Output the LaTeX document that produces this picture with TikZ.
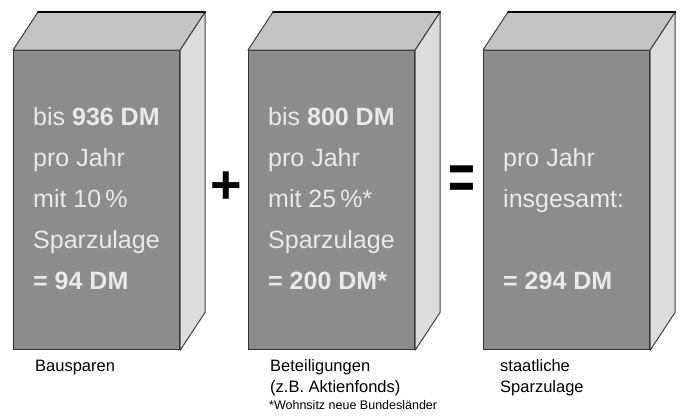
\documentclass[tikz,border=0pt]{standalone}
\usepackage{fontspec}
\setmainfont{Liberation Sans}
\usepackage{tikz}
\usetikzlibrary{calc}
\definecolor{frontgray}{RGB}{140,140,140}
\definecolor{topgray}{RGB}{196,196,196}
\definecolor{sidegray}{RGB}{220,220,220}
\definecolor{textgray}{RGB}{234,234,234}

\begin{document}
\begin{tikzpicture}[x=1pt,y=-1pt,
        front/.style={draw=black!80,fill=frontgray,line width=1.2pt,minimum width=166pt,
            minimum height=299pt,inner sep=0pt,anchor=north west},
        inbox/.style={anchor=base west,inner sep=0pt,text=textgray,font=\fontsize{25}{30}\selectfont},
        undertext/.style={anchor=base west,inner sep=0pt,font=\fontsize{16.5}{20}\selectfont},
        sign/.style={inner sep=0pt,font=\fontsize{54}{54}\selectfont\bfseries}]
    \useasboundingbox (0,0) rectangle (682,418);
    % front faces
    \node[front] (bau) at (13,50) {};
    \node[front] (bet) at (248,50) {};
    \node[front] (sum) at (483,50) {};
    % top and side faces
    \foreach \n in {bau,bet,sum} {
        \filldraw[fill=topgray,draw=black!75,line width=1pt,line join=round]
            (\n.north west) -- ++(25,-38) -- ($(\n.north east)+(25,-38)$) -- (\n.north east) -- cycle;
        \filldraw[fill=sidegray,draw=black!75,line width=1pt,line join=round]
            (\n.north east) -- ($(\n.north east)+(25,-38)$) -- ($(\n.south east)+(25,-38)$) -- (\n.south east) -- cycle;
        \draw[line width=2pt,line cap=round] ($(\n.north west)+(25,-38)$) -- ($(\n.north east)+(25,-38)$);
    }
    % texts on the boxes
    \foreach \t [count=\i] in {bis \textbf{936 DM}, pro Jahr, mit 10\,\%, Sparzulage, \textbf{= 94 DM}}
        \node[inbox] (bau-\i) at ($(bau.north west)+(20,{75+41*(\i-1)})$) {\t};
    \foreach \t [count=\i] in {bis \textbf{800 DM}, pro Jahr, mit 25\,\%*, Sparzulage, \textbf{= 200 DM*}}
        \node[inbox] (bet-\i) at ($(bet.north west)+(20,{75+41*(\i-1)})$) {\t};
    \node[inbox] (sum-2) at ($(sum.north west)+(20,116)$) {pro Jahr};
    \node[inbox] (sum-3) at ($(sum.north west)+(20,157)$) {insgesamt:};
    \node[inbox] (sum-5) at ($(sum.north west)+(20,239)$) {\textbf{= 294 DM}};
    % plus and equals
    \node[sign] (plus) at (226,188) {+};
    \node[sign,xscale=0.85,yscale=1.2] (equals) at (462,183) {=};
    % captions
    \node[undertext] (bau-cap) at (35,371) {Bausparen};
    \node[undertext] (bet-cap1) at (270,371) {Beteiligungen};
    \node[undertext] (bet-cap2) at (270,392) {(z.B. Aktienfonds)};
    \node[undertext,font=\fontsize{12.5}{14}\selectfont] (bet-note) at (269,409) {*Wohnsitz neue Bundesländer};
    \node[undertext] (sum-cap1) at (500,371) {staatliche};
    \node[undertext] (sum-cap2) at (500,392) {Sparzulage};
\end{tikzpicture}
\end{document}
